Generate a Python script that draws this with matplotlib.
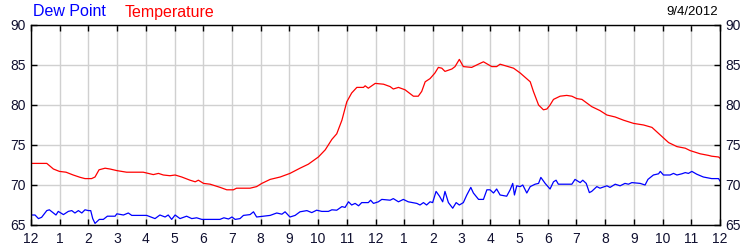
import matplotlib
matplotlib.use("Agg")
import matplotlib.pyplot as plt

plt.rcParams['font.family'] = ['Liberation Sans', 'DejaVu Sans']

# hours since midnight (0..24)
temp_h = [0, 0.55, 0.78, 0.99, 1.22, 1.47, 1.71, 1.88, 2.11, 2.23, 2.37, 2.58, 2.75, 2.99, 3.33,
          3.91, 4.26, 4.44, 4.61, 4.84, 5.02, 5.25, 5.54, 5.72, 5.83, 6.01, 6.24, 6.59, 6.82,
          7.05, 7.16, 7.63, 7.86, 8.04, 8.33, 8.68, 9.02, 9.37, 9.66, 10.01, 10.25, 10.48, 10.65,
          10.83, 11.0, 11.17, 11.35, 11.58, 11.64, 11.75, 11.99, 12.28, 12.51, 12.62, 12.8, 13.03,
          13.32, 13.49, 13.61, 13.73, 13.9, 14.07, 14.19, 14.31, 14.42, 14.66, 14.77, 14.92, 15.06,
          15.35, 15.64, 15.76, 16.05, 16.22, 16.34, 16.81, 17.04, 17.39, 17.5, 17.68, 17.85, 17.97,
          18.08, 18.2, 18.43, 18.66, 18.84, 19.01, 19.19, 19.53, 19.82, 20.06, 20.35, 20.64, 20.99,
          21.34, 21.63, 21.92, 22.21, 22.5, 22.79, 22.96, 23.31, 23.6, 23.71, 23.95, 24.0]
temp_v = [72.7, 72.7, 72.0, 71.7, 71.6, 71.25, 70.96, 70.8, 70.8, 71.0, 71.9, 72.1, 72.0, 71.8, 71.6,
          71.6, 71.3, 71.45, 71.25, 71.16, 71.25, 71.0, 70.6, 70.4, 70.6, 70.2, 70.1, 69.7, 69.4,
          69.4, 69.6, 69.6, 69.8, 70.2, 70.7, 71.0, 71.45, 72.1, 72.6, 73.5, 74.4, 75.7, 76.4,
          78.1, 80.4, 81.5, 82.2, 82.2, 82.4, 82.1, 82.7, 82.6, 82.3, 82.0, 82.2, 81.9,
          81.1, 81.1, 81.7, 82.9, 83.3, 84.0, 84.7, 84.6, 84.2, 84.5, 84.8, 85.7, 84.8,
          84.7, 85.2, 85.4, 84.8, 84.8, 85.1, 84.6, 84.0, 82.9, 81.7, 80.0, 79.4, 79.5,
          80.0, 80.7, 81.1, 81.2, 81.1, 80.8, 80.7, 79.8, 79.3, 78.75, 78.5, 78.1, 77.7,
          77.5, 77.2, 76.25, 75.3, 74.8, 74.6, 74.3, 73.9, 73.7, 73.6, 73.5, 73.35]

dew_h = [0, 0.14, 0.26, 0.37, 0.55, 0.64, 0.78, 0.87, 0.95, 1.13, 1.3, 1.42, 1.53, 1.65, 1.77, 1.88,
         2.0, 2.08, 2.15, 2.23, 2.38, 2.52, 2.66, 2.93, 2.99, 3.22, 3.39, 3.51, 4.03, 4.32, 4.49,
         4.67, 4.78, 4.9, 5.02, 5.19, 5.42, 5.6, 5.77, 5.95, 6.58, 6.72, 6.88, 7.0, 7.11, 7.28,
         7.4, 7.63, 7.75, 7.86, 8.1, 8.33, 8.56, 8.74, 8.85, 9.02, 9.2, 9.37, 9.61, 9.78, 9.95,
         10.13, 10.36, 10.48, 10.65, 10.83, 10.94, 11.06, 11.17, 11.29, 11.41, 11.52, 11.75, 11.83,
         11.93, 12.1, 12.22, 12.51, 12.62, 12.8, 12.97, 13.14, 13.44, 13.55, 13.67, 13.78, 13.9,
         13.99, 14.11, 14.23, 14.34, 14.42, 14.54, 14.69, 14.81, 14.92, 15.06, 15.18, 15.32, 15.41,
         15.59, 15.76, 15.88, 15.99, 16.11, 16.22, 16.34, 16.57, 16.69, 16.78, 16.84, 16.92, 17.04,
         17.13, 17.27, 17.39, 17.56, 17.68, 17.76, 17.91, 18.08, 18.2, 18.29, 18.37, 18.66, 18.84,
         18.95, 19.13, 19.22, 19.34, 19.45, 19.53, 19.71, 19.82, 20.06, 20.17, 20.35, 20.52, 20.69,
         20.81, 20.93, 21.22, 21.39, 21.49, 21.68, 21.86, 21.92, 22.03, 22.26, 22.38, 22.5, 22.67,
         22.79, 22.9, 23.02, 23.19, 23.42, 23.71, 23.95, 24.0]
dew_v = [66.25, 66.25, 65.8, 65.96, 66.8, 66.9, 66.5, 66.25, 66.7, 66.3, 66.7, 66.8, 66.5, 66.8, 66.5, 66.9,
         66.8, 66.8, 65.8, 65.2, 65.7, 65.7, 66.1, 66.1, 66.4, 66.25, 66.5, 66.2, 66.2, 65.8, 66.25,
         66.0, 66.25, 65.7, 66.25, 65.8, 66.1, 65.8, 65.9, 65.7, 65.7, 65.9, 65.75, 66.0, 65.7, 65.8,
         66.2, 66.3, 66.65, 66.0, 66.1, 66.2, 66.5, 66.35, 66.65, 66.0, 66.2, 66.65, 66.8, 66.55, 66.85,
         66.7, 66.7, 66.9, 66.85, 67.3, 67.2, 67.9, 67.5, 67.7, 67.4, 67.8, 67.8, 68.1,
         67.7, 67.9, 68.2, 68.1, 68.3, 67.9, 68.2, 67.9, 67.7, 67.5, 67.8, 67.5, 67.9,
         67.8, 69.2, 68.6, 67.9, 69.2, 67.8, 67.1, 67.8, 67.5, 67.8, 68.75, 69.7, 69.0,
         68.2, 68.2, 69.4, 69.4, 69.0, 69.5, 68.75, 68.6, 69.4, 70.2, 68.75, 69.9, 69.8,
         70.0, 69.0, 69.8, 70.1, 70.2, 70.95, 70.2, 69.5, 70.4, 70.6, 70.1, 70.1, 70.1,
         70.7, 70.3, 70.6, 70.2, 69.05, 69.2, 69.8, 69.6, 69.9, 69.7, 70.1, 69.9, 70.2,
         70.1, 70.3, 70.2, 70.0, 70.7, 71.25, 71.4, 71.7, 71.25, 71.25, 71.45, 71.25, 71.4,
         71.55, 71.45, 71.7, 71.35, 71.0, 70.8, 70.8, 70.5]

tick_hours = list(range(0, 25))
tick_labels = ['12', '1', '2', '3', '4', '5', '6', '7', '8', '9', '10', '11',
               '12', '1', '2', '3', '4', '5', '6', '7', '8', '9', '10', '11', '12']
y_ticks = [65, 70, 75, 80, 85, 90]
date_label = '9/4/2012'

fig = plt.figure(figsize=(7.5, 2.5), dpi=100)
ax = fig.add_axes([31/750, 0.1, (720-31)/750, 0.8])

ax.plot(temp_h, temp_v, color='#ff0000', lw=0.9)
ax.plot(dew_h, dew_v, color='#0000ff', lw=0.9)

ax.set_xlim(0, 24)
ax.set_ylim(65, 90)
ax.set_xticks(tick_hours)
ax.set_xticklabels(tick_labels)
ax.set_yticks(y_ticks)
ax.grid(True, color='#d0d0d0', lw=1.0)
ax.set_axisbelow(True)

lab_color = '#101030'
ax.tick_params(axis='x', which='both', bottom=True, top=True, direction='in', length=4,
               width=1, color='black', labelsize=10, labelcolor=lab_color, pad=5)
ax.tick_params(axis='y', which='both', left=True, right=True, direction='in', length=4,
               width=1, color='black', labelleft=True, labelright=True,
               labelsize=10, labelcolor=lab_color, pad=4)
for s in ax.spines.values():
    s.set_linewidth(1.0)
    s.set_color('black')

fig.text(33/750, 1 - 12/250, 'Dew Point', color='#0000ff', fontsize=11.5, va='center', ha='left')
fig.text(125/750, 1 - 12/250, 'Temperature', color='#ff0000', fontsize=11.5, va='center', ha='left')
fig.text(718/750, 1 - 12/250, date_label, color='black', fontsize=9.5, va='center', ha='right')

fig.savefig('out.png', dpi=100)
